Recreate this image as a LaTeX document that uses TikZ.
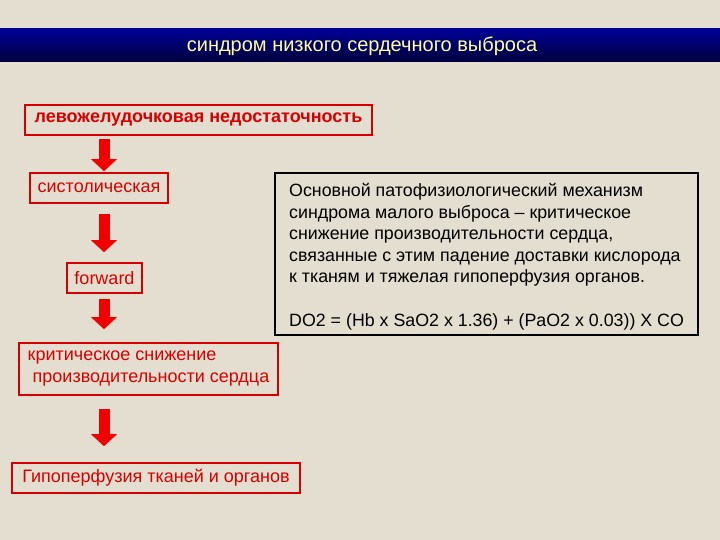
\documentclass[tikz,border=0pt]{standalone}
\usepackage{fontspec}
\setmainfont{Liberation Sans}
\usepackage{xcolor}
\usetikzlibrary{positioning,arrows.meta}
\definecolor{paper}{RGB}{228,222,208}
\definecolor{boxred}{RGB}{214,0,0}
\definecolor{arrowred}{RGB}{240,0,0}
\definecolor{titletop}{RGB}{0,0,150}
\definecolor{titlebot}{RGB}{0,0,60}
\definecolor{titletext}{RGB}{255,255,150}

\begin{document}
\begin{tikzpicture}[x=1pt,y=1pt,
		redbox/.style={draw=boxred, line width=1.6pt, rectangle, text=boxred, inner sep=0pt, font=\fontsize{18}{22}\selectfont},
		bigarrow/.style={draw=arrowred, line width=11pt, -{Triangle[width=26pt,length=12pt,line width=0pt]}, arrowred}]
				\fill[paper] (0,0) rectangle (720,-540);
				\useasboundingbox (0,0) rectangle (720,-540);
				\node[rectangle, minimum width=720pt, minimum height=33pt, inner sep=0pt, top color=titletop, bottom color=titlebot] (bar) at (360,-45.5) {};
				\node[text=titletext, font=\fontsize{20}{24}\selectfont] (title) at (362,-46) {синдром низкого сердечного выброса};
				
				\node[redbox, minimum width=347pt, minimum height=30pt, font=\fontsize{18}{22}\selectfont\bfseries] (lvf) at (198.5,-120) {левожелудочковая недостаточность};
				\node[redbox, minimum width=138pt, minimum height=30pt] (sys) at (99,-188) {систолическая};
				\node[redbox, minimum width=75pt, minimum height=30pt] (fwd) at (104.5,-278) {forward};
				\node[redbox, minimum width=259pt, minimum height=52pt, align=left] (drop) at (148.5,-369) {критическое снижение\\\ производительности сердца};
				\node[redbox, minimum width=288pt, minimum height=30pt] (hypo) at (156,-478) {Гипоперфузия тканей и органов};
				
				\node[draw, line width=1.6pt, rectangle, minimum width=423pt, minimum height=162pt] (mech) at (486.5,-254) {};
				\node[anchor=north west, inner sep=0pt, align=left, font=\fontsize{17.8}{21.6}\selectfont] (mtext) at (289,-183) {Основной патофизиологический механизм\\синдрома малого выброса -- критическое\\снижение производительности сердца,\\связанные с этим падение доставки кислорода\\к тканям и тяжелая гипоперфузия органов.\\[21.6pt]DO2 = (Hb x SaO2 x 1.36) + (PaO2 x 0.03)) X CO};
				
				\coordinate (ax) at (104,0);
				\draw[bigarrow, shorten <=3pt, shorten >=1pt] (lvf.south -| ax) -- (sys.north -| ax);
				\draw[bigarrow, shorten <=10pt, shorten >=10pt] (sys.south -| ax) -- (fwd.north -| ax);
				\draw[bigarrow, shorten <=5pt, shorten >=13pt] (fwd.south -| ax) -- (drop.north -| ax);
				\draw[bigarrow, shorten <=13pt, shorten >=16pt] (drop.south -| ax) -- (hypo.north -| ax);
			\end{tikzpicture}
\end{document}
